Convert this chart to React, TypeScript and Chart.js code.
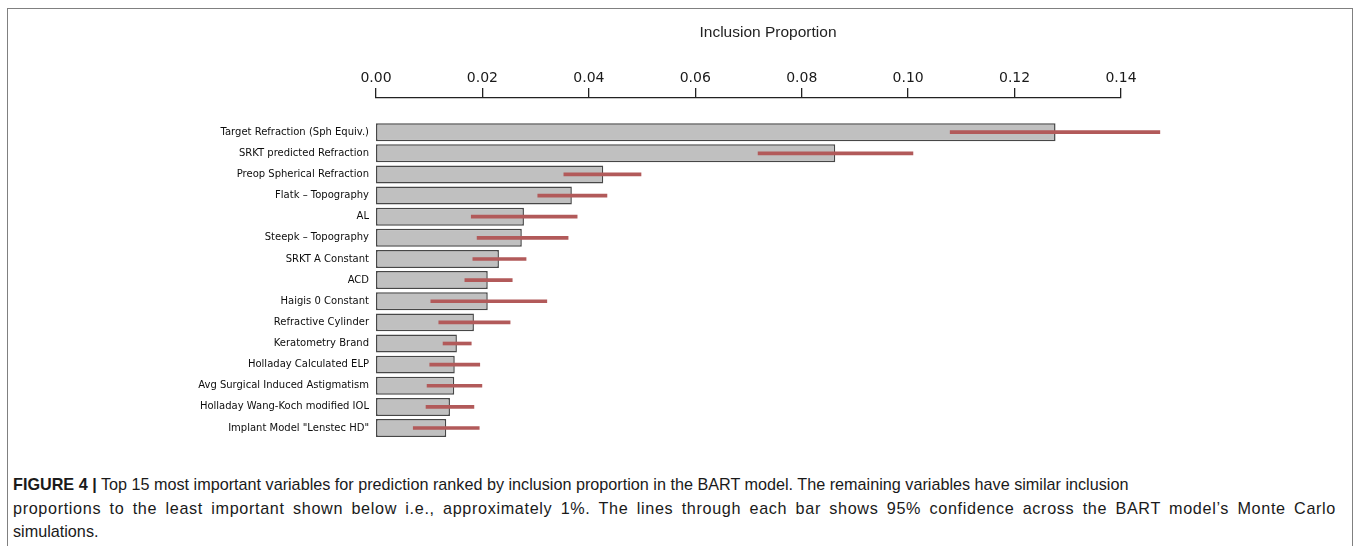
import React, { useEffect, useRef } from "react";
import { Chart, registerables } from "chart.js";

Chart.register(...registerables);

const categories = [
  "Target Refraction (Sph Equiv.)",
  "SRKT predicted Refraction",
  "Preop Spherical Refraction",
  "Flatk – Topography",
  "AL",
  "Steepk – Topography",
  "SRKT A Constant",
  "ACD",
  "Haigis 0 Constant",
  "Refractive Cylinder",
  "Keratometry Brand",
  "Holladay Calculated ELP",
  "Avg Surgical Induced Astigmatism",
  "Holladay Wang-Koch modified IOL",
  'Implant Model "Lenstec HD"',
];

const inclusion = [0.1277, 0.0863, 0.0427, 0.0368, 0.0278, 0.0274, 0.0231, 0.021, 0.021, 0.0184, 0.0152, 0.0148, 0.0147, 0.0139, 0.0132];
const ciLow = [0.1079, 0.0718, 0.0353, 0.0304, 0.0179, 0.019, 0.0182, 0.0167, 0.0103, 0.0118, 0.0126, 0.0101, 0.0096, 0.0094, 0.007];
const ciHigh = [0.1473, 0.1009, 0.0498, 0.0434, 0.0378, 0.0361, 0.0282, 0.0256, 0.0321, 0.0252, 0.0179, 0.0195, 0.0199, 0.0184, 0.0194];

const axisMin = 0;
const axisMax = 0.14;
const axisStep = 0.02;

const titleText = "Inclusion Proportion";

const captionLead = "FIGURE 4 |";
const captionLine1 = " Top 15 most important variables for prediction ranked by inclusion proportion in the BART model. The remaining variables have similar inclusion";
const captionLine2 = "proportions to the least important shown below i.e., approximately 1%. The lines through each bar shows 95% confidence across the BART model’s Monte Carlo";
const captionLine3 = "simulations.";

export default function App() {
  const canvasRef = useRef<HTMLCanvasElement | null>(null);

  useEffect(() => {
    const canvas = canvasRef.current;
    if (!canvas) return;
    const chart = new Chart(canvas, {
      type: "bar",
      data: {
        labels: categories,
        datasets: [
          {
            label: "95% CI",
            data: ciLow.map((l, i) => [l, ciHigh[i]]) as any,
            backgroundColor: "#b25a5a",
            borderWidth: 0,
            barThickness: 3,
            grouped: false,
            clip: false,
            order: 0,
            xAxisID: "x",
            yAxisID: "y",
          } as any,
          {
            label: "Inclusion Proportion",
            data: inclusion,
            backgroundColor: "#c0c0c0",
            borderColor: "#474747",
            borderWidth: 1.5,
            borderSkipped: false,
            barPercentage: 0.85,
            categoryPercentage: 1,
            grouped: false,
            order: 1,
            xAxisID: "x",
            yAxisID: "y",
          } as any,
        ],
      },
      options: {
        indexAxis: "y",
        animation: false,
        responsive: false,
        maintainAspectRatio: false,
        events: [],
        layout: { padding: { left: 180, right: 0, top: 0, bottom: 21.4 } },
        plugins: {
          legend: { display: false },
          tooltip: { enabled: false },
          title: {
            display: true,
            text: titleText,
            color: "#222",
            font: { family: "'Liberation Sans', Arial, sans-serif", size: 15.5, weight: "normal", lineHeight: 1.2 },
            padding: { top: 23.5, bottom: 0 },
            fullSize: true,
          },
        },
        scales: {
          x: {
            type: "linear",
            position: "top",
            min: axisMin,
            max: axisMax,
            weight: 0,
            ticks: { display: false },
            grid: { display: false, drawTicks: false },
            border: { display: false },
            afterFit: (s: any) => {
              s.height = 23.7;
            },
          },
          x2: {
            type: "linear",
            position: "top",
            min: axisMin,
            max: axisMax,
            weight: 1,
            ticks: {
              stepSize: axisStep,
              maxRotation: 0,
              autoSkip: false,
              padding: 1.5,
              color: "#1a1a1a",
              font: { family: "'DejaVu Sans', Verdana, sans-serif", size: 14 },
              callback: (v: any) => Number(v).toFixed(2),
            },
            grid: {
              display: true,
              drawOnChartArea: false,
              drawTicks: true,
              tickLength: 10,
              tickColor: "#222",
              tickWidth: 1.3,
              lineWidth: 1.3,
              color: "#222",
            },
            border: { display: true, color: "#222", width: 1.3 },
            afterFit: (s: any) => {
              s.height = 55.8;
            },
          },
          y: {
            type: "category",
            position: "left",
            ticks: {
              color: "#0d0d0d",
              padding: 7,
              autoSkip: false,
              font: { family: "'DejaVu Sans', Verdana, sans-serif", size: 10 },
            },
            grid: { display: false, drawTicks: false },
            border: { display: false },
            afterFit: (s: any) => {
              s.width = 196;
            },
          },
          yRight: {
            type: "linear",
            position: "right",
            display: true,
            ticks: { display: false },
            grid: { display: false, drawTicks: false },
            border: { display: false },
            afterFit: (s: any) => {
              s.width = 235;
            },
          },
        } as any,
      },
    });
    return () => chart.destroy();
  }, []);

  const captionFont = "'Liberation Sans', Arial, sans-serif";

  return (
    <div style={{ position: "absolute", left: 0, top: 0, width: 1356, height: 546, overflow: "hidden", background: "#fff" }}>
      <div
        style={{
          position: "absolute",
          left: 7,
          top: 8,
          width: 1346,
          height: 600,
          boxSizing: "border-box",
          border: "1px solid #808080",
        }}
      />
      <canvas
        ref={canvasRef}
        width={1356}
        height={460}
        style={{ position: "absolute", left: 0, top: 0, width: 1356, height: 460 }}
      />
      <div
        style={{
          position: "absolute",
          left: 13,
          top: 473,
          width: 1323,
          fontFamily: captionFont,
          fontSize: 16.2,
          lineHeight: "23.5px",
          color: "#1a1a1a",
          whiteSpace: "nowrap",
        }}
      >
        <div>
          <b>{captionLead}</b>
          {captionLine1}
        </div>
        <div style={{ textAlign: "justify", textAlignLast: "justify" as any, letterSpacing: "0.65px" }}>{captionLine2}</div>
        <div>{captionLine3}</div>
      </div>
    </div>
  );
}
